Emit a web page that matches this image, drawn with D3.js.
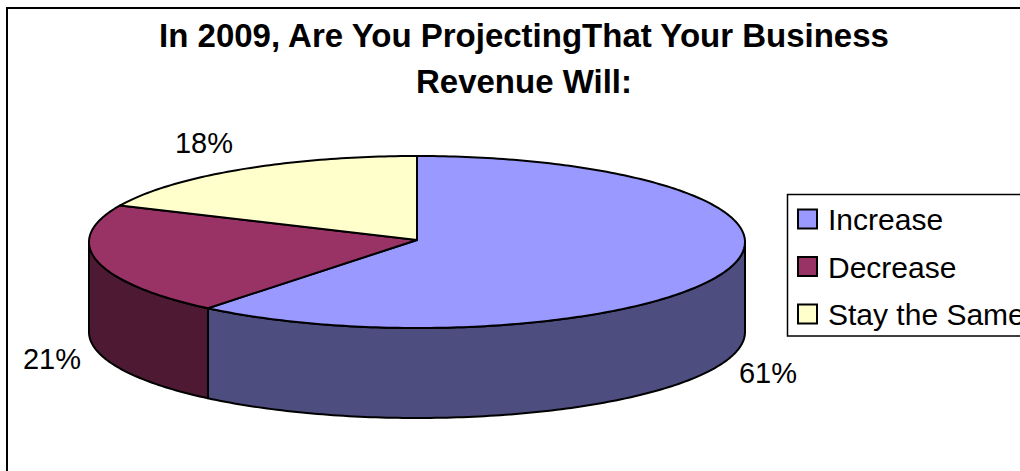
<!DOCTYPE html>
<html>
<head>
<meta charset="utf-8">
<script src="https://cdn.jsdelivr.net/npm/d3@7"></script>
<style>
  html, body { margin: 0; padding: 0; background: #fff; overflow: hidden; }
  text { font-family: "Liberation Sans", Arial, sans-serif; fill: #000; }
</style>
</head>
<body>
<svg id="chart" width="1020" height="471"></svg>
<script>
const categories = ["Increase", "Decrease", "Stay the Same"];
const shares = [61, 21, 18];
const labels = ["61%", "21%", "18%"];
const titleLines = ["In 2009, Are You ProjectingThat Your Business", "Revenue Will:"];
const topColors = ["#9999ff", "#993366", "#ffffcc"];
const wallColors = ["#4d4d80", "#4d1933", "#808066"];

const svg = d3.select("#chart");
const width = +svg.attr("width");
const height = +svg.attr("height");

const cx = 417, cy = 242, rx = 328, ry = 86, depth = 90, apexY = 240;

// unit circle -> squashed pie
const x = d3.scaleLinear().domain([-1, 1]).range([cx - rx, cx + rx]);
const y = d3.scaleLinear().domain([-1, 1]).range([cy - ry, cy + ry]);

const slices = d3.pie().sort(null).value(d => d)(shares);

function arcPoints(a0, a1, dy) {
  const n = Math.max(2, Math.ceil(Math.abs(a1 - a0) * 60));
  return d3.range(n + 1).map(i => {
    const a = a0 + (a1 - a0) * i / n;
    return [x(Math.sin(a)), y(-Math.cos(a)) + dy];
  });
}

const line = d3.line();

// chart frame, runs off the right and bottom of the image
svg.append("rect")
  .attr("x", 7).attr("y", 8)
  .attr("width", width + 20).attr("height", height + 20)
  .attr("fill", "#fff").attr("stroke", "#000").attr("stroke-width", 2);

const g = svg.append("g");

// side walls, only the front half of the rim shows
slices.forEach((s, i) => {
  const a0 = Math.max(s.startAngle, Math.PI / 2);
  const a1 = Math.min(s.endAngle, 3 * Math.PI / 2);
  if (a1 <= a0) return;
  const pts = arcPoints(a0, a1, 0).concat(arcPoints(a1, a0, depth));
  g.append("path")
    .attr("d", line(pts) + "Z")
    .attr("fill", wallColors[i])
    .attr("stroke", "#000")
    .attr("stroke-width", 2)
    .attr("stroke-linejoin", "round");
});

// top faces
slices.forEach((s, i) => {
  const pts = [[x(0), apexY]].concat(arcPoints(s.startAngle, s.endAngle, 0));
  g.append("path")
    .attr("d", line(pts) + "Z")
    .attr("fill", topColors[i])
    .attr("stroke", "#000")
    .attr("stroke-width", 2)
    .attr("stroke-linejoin", "round");
});

// title
svg.selectAll(".title").data(titleLines).join("text")
  .attr("class", "title")
  .attr("x", 524)
  .attr("y", (d, i) => 47 + i * 46)
  .attr("text-anchor", "middle")
  .attr("font-size", 33)
  .attr("font-weight", "bold")
  .text(d => d);

// data labels
const labelPos = [[768, 383], [52, 369], [204, 153]];
svg.selectAll(".pct").data(labels).join("text")
  .attr("class", "pct")
  .attr("x", (d, i) => labelPos[i][0])
  .attr("y", (d, i) => labelPos[i][1])
  .attr("text-anchor", "middle")
  .attr("font-size", 29)
  .text(d => d);

// legend
const legend = svg.append("g");
legend.append("rect")
  .attr("x", 787.5).attr("y", 194.5)
  .attr("width", 300).attr("height", 141.5)
  .attr("fill", "#fff").attr("stroke", "#000").attr("stroke-width", 1.5);

categories.forEach((c, i) => {
  const yy = 219 + i * 47.5;
  legend.append("rect")
    .attr("x", 798).attr("y", yy - 9.5)
    .attr("width", 19).attr("height", 19)
    .attr("fill", topColors[i]).attr("stroke", "#000").attr("stroke-width", 2);
  legend.append("text")
    .attr("x", 828).attr("y", yy + 11)
    .attr("font-size", 30)
    .text(c);
});
</script>
</body>
</html>
